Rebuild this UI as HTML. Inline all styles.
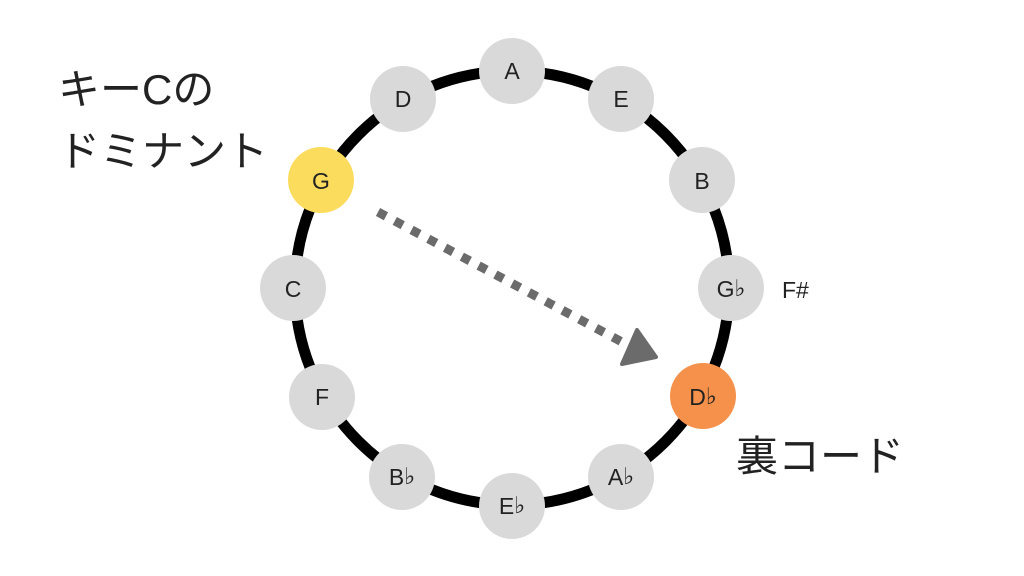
<!DOCTYPE html>
<html><head><meta charset="utf-8"><style>
html,body{margin:0;padding:0;background:#fff;}
svg{display:block}
text{font-family:"Liberation Sans","Noto Sans CJK JP",sans-serif;}
.f{font-family:"DejaVu Sans",sans-serif;}
</style></head><body>
<svg width="1024" height="576" viewBox="0 0 1024 576" xmlns="http://www.w3.org/2000/svg">
<rect width="1024" height="576" fill="#fff"/>
<circle cx="512" cy="288" r="217" fill="none" stroke="#000" stroke-width="11"/>
<g fill="#d9d9d9">
<circle cx="512" cy="71" r="33"/><circle cx="621" cy="99" r="33"/><circle cx="702" cy="180" r="33"/>
<circle cx="731" cy="288" r="33"/><circle cx="402" cy="477" r="33"/><circle cx="621" cy="477" r="33"/>
<circle cx="512" cy="506" r="33"/><circle cx="322" cy="397" r="33"/><circle cx="293" cy="288" r="33"/>
<circle cx="403" cy="99" r="33"/>
</g>
<circle cx="321" cy="180" r="33" fill="#fcdc5c"/>
<circle cx="703" cy="396" r="33" fill="#f5914a"/>
<g font-size="23" fill="#222" text-anchor="middle" dominant-baseline="central">
<text x="512" y="71">A</text><text x="621" y="99">E</text><text x="702" y="181">B</text>
<text x="731" y="289">G<tspan class="f">♭</tspan></text><text x="703" y="397">D<tspan class="f">♭</tspan></text><text x="621" y="477">A<tspan class="f">♭</tspan></text>
<text x="512" y="506">E<tspan class="f">♭</tspan></text><text x="402" y="477">B<tspan class="f">♭</tspan></text><text x="322" y="397">F</text>
<text x="293" y="289">C</text><text x="321" y="181">G</text><text x="403" y="99">D</text>
</g>
<text x="782" y="298" font-size="23" fill="#222">F#</text>
<line x1="378" y1="212" x2="622" y2="342" stroke="#6b6b6b" stroke-width="9" stroke-dasharray="9 10"/>
<polygon points="637,330 656,357 622,364" fill="#6b6b6b" stroke="#6b6b6b" stroke-width="4" stroke-linejoin="round"/>
<g font-size="42" fill="#222">
<text x="58" y="104">キーCの</text>
<text x="58" y="166">ドミナント</text>
<text x="736" y="471">裏コード</text>
</g>
</svg>
</body></html>
